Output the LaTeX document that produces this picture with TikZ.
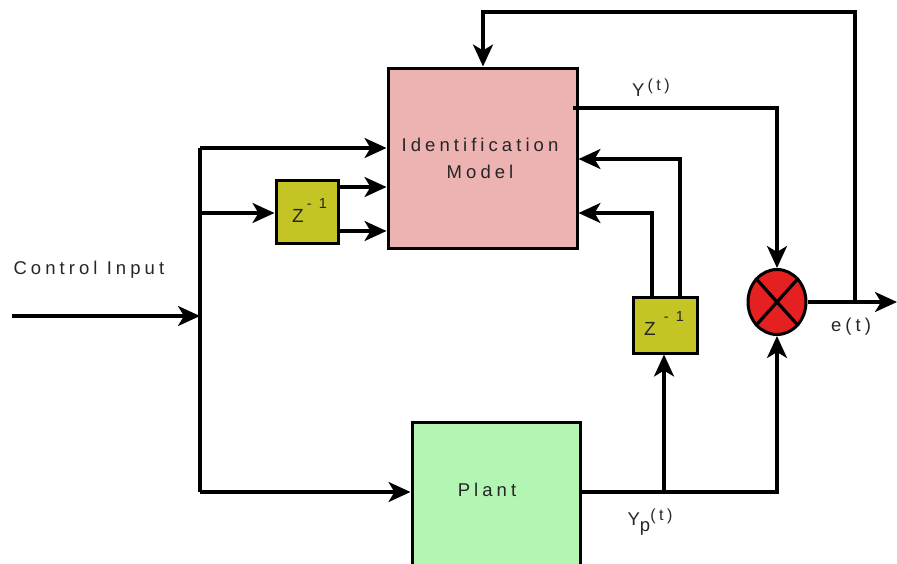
\documentclass[tikz,border=0pt]{standalone}
\usepackage{fontspec}
\setmainfont{Liberation Sans}
\newfontfamily\spaced[LetterSpace=22]{Liberation Sans}
\usetikzlibrary{arrows.meta,shapes.geometric}
\definecolor{idpink}{HTML}{EDB2B2}
\definecolor{olive}{HTML}{C4C425}
\definecolor{plantgreen}{HTML}{B3F5B3}
\definecolor{sumred}{HTML}{E52020}
\begin{document}
\begin{tikzpicture}[x=1pt,y=-1pt,
  blk/.style={draw=black,line width=3pt,inner sep=0pt},
  conn/.style={line width=3.2pt,line join=miter},
  arr/.style={conn,-{Stealth[length=22pt,width=20pt,inset=6pt]}},
  lbl/.style={font=\spaced\fontsize{18.5}{22}\selectfont,text=black!85},
  zlbl/.style={font=\fontsize{19}{22}\selectfont,text=black!85,anchor=base west,inner sep=0pt}]
\useasboundingbox (0,0) rectangle (897,563);
% blocks
\node[blk,fill=idpink,minimum width=189pt,minimum height=180pt] (id) at (482.5,158) {};
\node[lbl,align=center] (idtxt) at (480,158) {Identification\\[5pt]Model};
\node[blk,fill=olive,minimum width=62pt,minimum height=63pt] (z1) at (307,211.5) {};
\node[zlbl] (z1t) at (292,222) {Z\hspace{3pt}\raisebox{14pt}{\spaced\fontsize{14.5}{17}\selectfont - 1}};
\node[blk,fill=olive,minimum width=64pt,minimum height=56pt] (z2) at (665,325) {};
\node[zlbl] (z2t) at (644,335) {Z\hspace{8pt}\raisebox{14pt}{\spaced\fontsize{14.5}{17}\selectfont - 1}};
\node[blk,fill=plantgreen,minimum width=168pt,minimum height=145pt] (plant) at (496,494.5) {};
\node[lbl] (planttxt) at (487,490) {Plant};
\node[blk,ellipse,fill=sumred,minimum width=58pt,minimum height=65pt] (sum) at (777,302) {};
\draw[conn] (sum.north west) -- (sum.south east) (sum.north east) -- (sum.south west);
% coordinates
\coordinate (cin) at (12,316);
\coordinate (bus) at (200,316);
\coordinate (btop) at (200,148);
\coordinate (bz) at (200,213);
\coordinate (bbot) at (200,492);
\coordinate (pbr) at (664,492);
\coordinate (yt) at (573,108);
\coordinate (eout) at (897,302);
\coordinate (ebr) at (855,302);
% connectors
\draw[arr] (cin) -- (bus);
\draw[conn] (btop) -- (bbot);
\draw[arr] (btop) -- (btop -| id.west);
\draw[arr] (bz) -- (z1.west |- bz);
\draw[arr] (z1.east |- 0,187) -- (id.west |- 0,187);
\draw[arr] (z1.east |- 0,231) -- (id.west |- 0,231);
\draw[arr] (bbot) -- (plant.west |- bbot);
\draw[arr] (plant.east |- pbr) -- (777,492) -- (sum.south);
\draw[arr] (pbr) -- (z2.south -| pbr);
\draw[arr] (z2.north -| 652,0) -- (652,213) -- (id.east |- 0,213);
\draw[arr] (z2.north -| 680,0) -- (680,159) -- (id.east |- 0,159);
\draw[arr] (yt) -- (777,108) -- (sum.north);
\draw[arr] (sum.east) -- (eout);
\draw[arr] (ebr) -- (855,12) -- (483,12) -- (id.north -| 483,0);
% labels
\node[lbl,anchor=west] (ci) at (10,270) {Control Input};
\node[lbl] (ylab) at (651,88) {Y\,\raisebox{6pt}{\fontsize{16}{18}\selectfont (t)}};
\node[lbl] (elab) at (851,327) {e(t)};
\node[lbl] (yplab) at (650,522) {Y\raisebox{-6pt}{p}\raisebox{5pt}{\fontsize{16}{18}\selectfont (t)}};
\end{tikzpicture}
\end{document}
